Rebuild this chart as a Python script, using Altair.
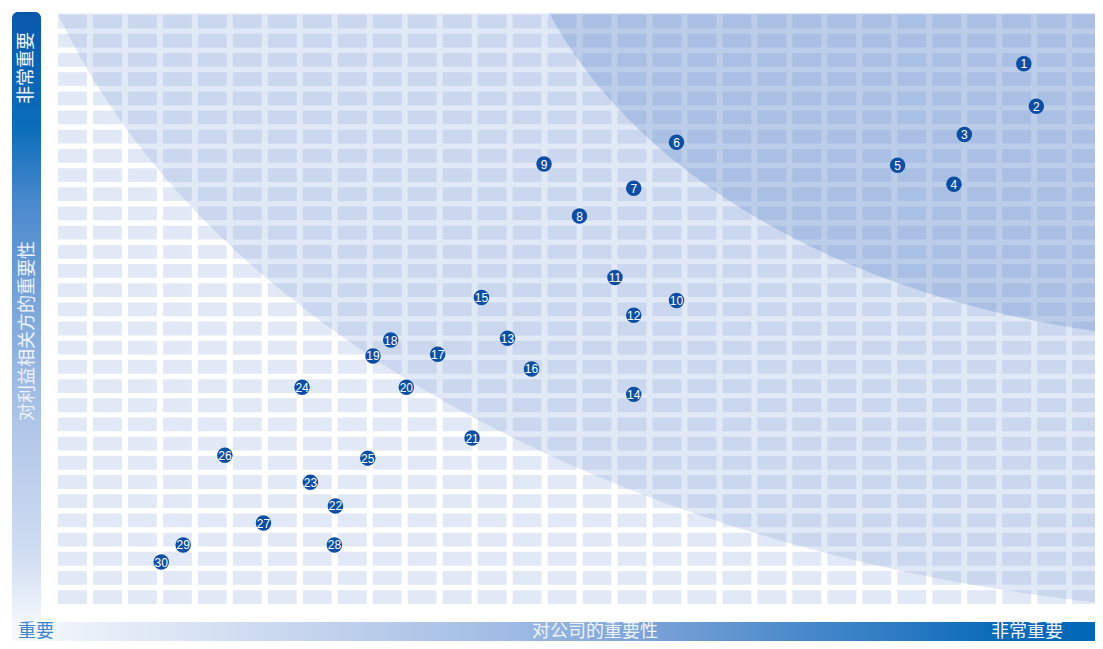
import altair as alt
import pandas as pd
import numpy as np

# ---- data: materiality matrix (0-100 scale on both axes) ----
ids = [str(i) for i in range(1, 31)]
company = [92.6, 93.8, 86.9, 85.9, 80.5, 59.3, 55.2, 50.0, 46.6, 59.3,
           53.4, 55.2, 43.1, 55.2, 40.6, 45.4, 36.4, 31.9, 30.2, 33.4,
           39.7, 26.6, 24.2, 23.4, 29.7, 16.0, 19.7, 26.5, 12.0, 9.9]
stake = [91.5, 84.3, 79.5, 71.1, 74.3, 78.2, 70.4, 65.7, 74.5, 51.4,
         55.3, 48.9, 45.0, 35.5, 51.9, 39.8, 42.3, 44.7, 42.0, 36.7,
         28.1, 16.6, 20.6, 36.7, 24.7, 25.2, 13.7, 10.0, 10.0, 7.1]

y_title = "对利益相关方的重要性"
x_title = "对公司的重要性"
low_label = "重要"
high_label = "非常重要"

# ---- background tile grid ----
n_cols, n_rows = 30, 31
col_pitch, cell_w = 3.353, 2.771
row_pitch, cell_h = 3.249, 2.335
cells = []
for i in range(n_cols):
    for j in range(n_rows):
        cells.append({"x0": i * col_pitch, "x1": i * col_pitch + cell_w,
                      "y0": j * row_pitch, "y1": j * row_pitch + cell_h})
cells_df = pd.DataFrame(cells)

# ---- decorative elliptical zones ----
def zone(cx, cy, a, b, n=300):
    x0 = max(0.0, cx - a * np.sqrt(max(0.0, 1 - ((cy - 100) / b) ** 2)))
    xs = np.linspace(x0, 100, n)
    ys = cy - b * np.sqrt(np.clip(1 - ((cx - xs) / a) ** 2, 0, None))
    ys = np.clip(ys, 0, 100)
    return pd.DataFrame({"x": xs, "y": ys, "y2": 100.0})

zone1 = zone(121.5, 140.3, 126.7, 142.2)
zone2 = zone(114.3, 127.6, 71.2, 83.2)

pts = pd.DataFrame({"id": ids, "company": company, "stake": stake})

X = alt.Scale(domain=[0, 100], range=[50, 1093], zero=False, nice=False)
Y = alt.Scale(domain=[0, 100], range=[596, 5.5], zero=False, nice=False)

grid = alt.Chart(cells_df).mark_rect(color="#e1e8f6", cornerRadius=1).encode(
    x=alt.X("x0:Q", scale=X, axis=None), x2="x1:Q",
    y=alt.Y("y0:Q", scale=Y, axis=None), y2="y1:Q")

z1 = alt.Chart(zone1).mark_area(color="#86a5da", opacity=0.25).encode(
    x=alt.X("x:Q", scale=X, axis=None),
    y=alt.Y("y:Q", scale=Y, axis=None), y2="y2:Q")

z2 = alt.Chart(zone2).mark_area(color="#3a6fc0", opacity=0.22).encode(
    x=alt.X("x:Q", scale=X, axis=None),
    y=alt.Y("y:Q", scale=Y, axis=None), y2="y2:Q")

dots = alt.Chart(pts).mark_circle(size=240, color="#0c4ea3", opacity=1).encode(
    x=alt.X("company:Q", scale=X, axis=None),
    y=alt.Y("stake:Q", scale=Y, axis=None))

labels = alt.Chart(pts).mark_text(color="white", fontSize=12, font="Liberation Sans",
                                  align="center", baseline="middle", dy=0.5).encode(
    x=alt.X("company:Q", scale=X, axis=None),
    y=alt.Y("stake:Q", scale=Y, axis=None),
    text="id:N")

one = alt.Data(values=[{"a": 1}])

left_grad = {"gradient": "linear", "x1": 0, "x2": 0, "y1": 0, "y2": 1,
             "stops": [{"offset": 0, "color": "#0a58ad"},
                       {"offset": 0.19, "color": "#0b6eba"},
                       {"offset": 0.31, "color": "#4a89cd"},
                       {"offset": 0.67, "color": "#afc5e8"},
                       {"offset": 0.89, "color": "#d0ddf2"},
                       {"offset": 1, "color": "#f4f7fc"}]}
bottom_grad = {"gradient": "linear", "x1": 0, "x2": 1, "y1": 0, "y2": 0,
               "stops": [{"offset": 0, "color": "#f7f9fd"},
                         {"offset": 0.26, "color": "#c7d6ee"},
                         {"offset": 0.45, "color": "#a0bce4"},
                         {"offset": 0.58, "color": "#7ca3d8"},
                         {"offset": 0.72, "color": "#4a8aca"},
                         {"offset": 0.81, "color": "#2d7bc4"},
                         {"offset": 0.9, "color": "#0b6bb9"},
                         {"offset": 1, "color": "#0067b6"}]}

left_bar = alt.Chart(one).mark_rect(color=left_grad, cornerRadiusTopLeft=6,
                                    cornerRadiusTopRight=6).encode(
    x=alt.value(4), x2=alt.value(33), y=alt.value(4), y2=alt.value(615))
bottom_bar = alt.Chart(one).mark_rect(color=bottom_grad).encode(
    x=alt.value(4), x2=alt.value(1095), y=alt.value(614), y2=alt.value(633))

cjk = "Noto Sans CJK SC"
t_left_top = alt.Chart(one).mark_text(text=high_label, font=cjk, fontSize=18, angle=270,
                                      color="#f2f6fc", align="center", baseline="middle").encode(
    x=alt.value(19), y=alt.value(60))
t_left_mid = alt.Chart(one).mark_text(text=y_title, font=cjk, fontSize=18, angle=270,
                                      color="#eef3fb", align="center", baseline="middle").encode(
    x=alt.value(20), y=alt.value(323))
t_low = alt.Chart(one).mark_text(text=low_label, font=cjk, fontSize=18, color="#3b87d0",
                                 align="left", baseline="middle").encode(
    x=alt.value(10), y=alt.value(624))
t_mid = alt.Chart(one).mark_text(text=x_title, font=cjk, fontSize=18, color="#eef3fb",
                                 align="center", baseline="middle").encode(
    x=alt.value(587), y=alt.value(624))
t_high = alt.Chart(one).mark_text(text=high_label, font=cjk, fontSize=18, color="#f2f6fc",
                                  align="center", baseline="middle").encode(
    x=alt.value(1019), y=alt.value(624))

chart = alt.layer(grid, z1, z2, dots, labels, left_bar, bottom_bar,
                  t_left_top, t_left_mid, t_low, t_mid, t_high).properties(
    width=1087, height=633, padding=0, autosize="none", background="white"
).configure_view(stroke=None)

chart.save("out.html", embed_options={"renderer": "svg", "actions": False})
